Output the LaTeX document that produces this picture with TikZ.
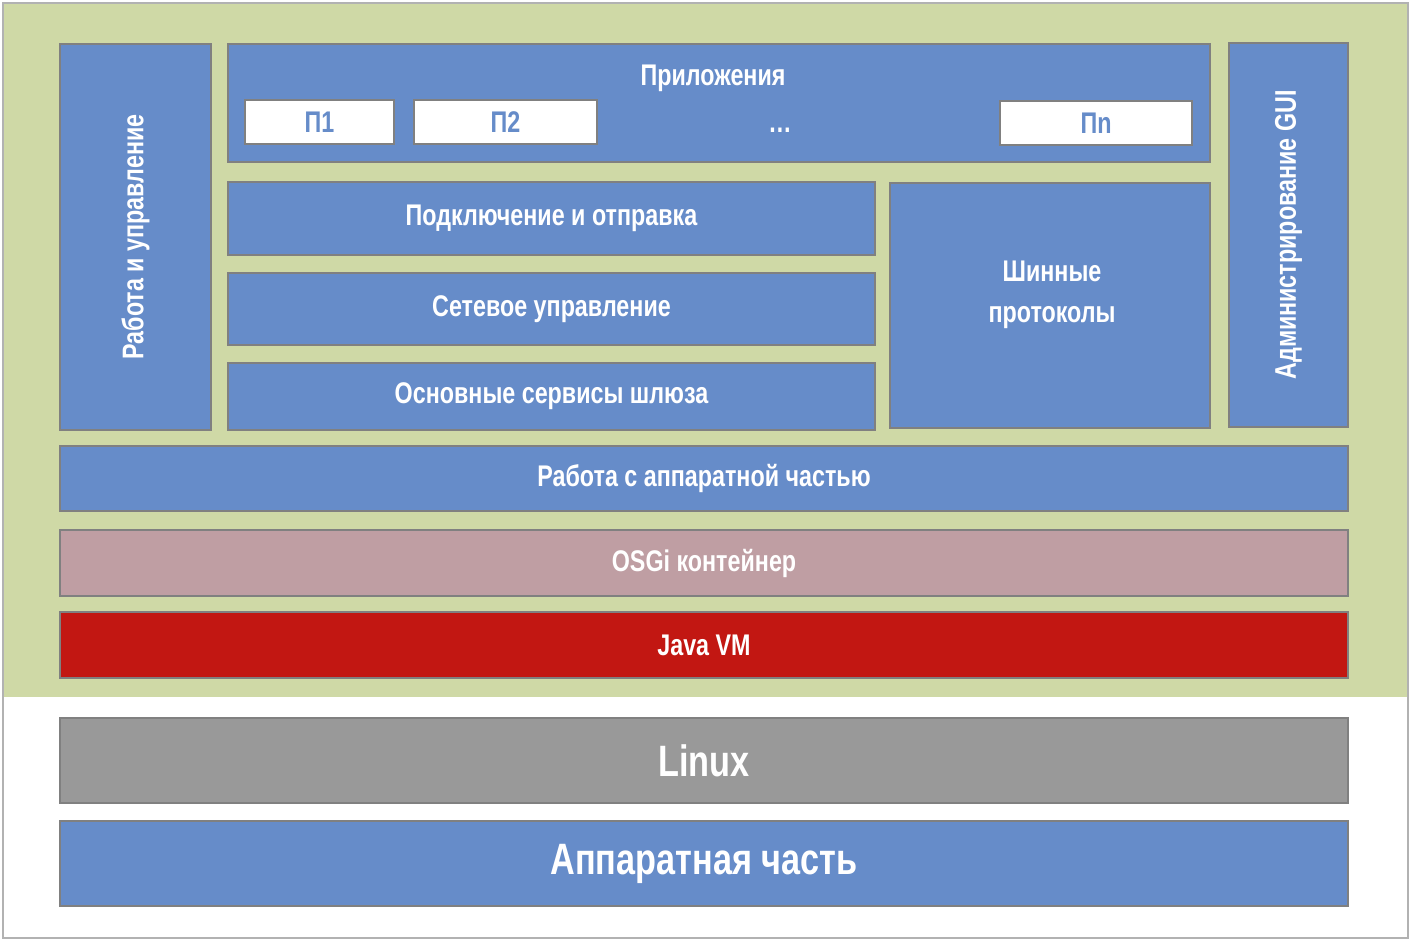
\documentclass[tikz,border=0pt]{standalone}
\usepackage{fontspec}
\setmainfont{Liberation Sans}[FakeStretch=0.78]
\definecolor{fond}{rgb}{0.81,0.85,0.65}
\definecolor{bleu}{rgb}{0.40,0.55,0.79}
\definecolor{rose}{rgb}{0.75,0.62,0.64}
\definecolor{rouge}{rgb}{0.76,0.09,0.07}
\definecolor{grisc}{rgb}{0.60,0.60,0.60}
\definecolor{bord}{rgb}{0.50,0.50,0.50}
\begin{document}
\begin{tikzpicture}[x=0.02cm, y=-0.02cm]
  \tikzstyle{bloc}=[draw=bord, line width=1.1pt, fill=bleu, text=white, font=\bfseries\fontsize{17}{19}\selectfont, align=center]
  \tikzstyle{appli}=[draw=bord, line width=1.1pt, fill=white, text=bleu, font=\bfseries\fontsize{17}{19}\selectfont]

	\useasboundingbox (0,0) rectangle (1416,943);
	\draw[bord!60, line width=0.8pt, fill=white] (3,3) rectangle (1408,938);
	\fill[fond] (4,4) rectangle (1407,697);

	\draw[bloc] (60,44) rectangle (211,430) node[midway, rotate=90] (ctl) {Работа и управление};
	\draw[bloc] (228,44) rectangle (1210,162);
	\node[text=white, font=\bfseries\fontsize{17}{19}\selectfont] (app) at (713,78) {Приложения};
	\draw[appli] (245,100) rectangle (394,144) node[midway] (P1) {П1};
	\draw[appli] (414,100) rectangle (597,144) node[midway] (P2) {П2};
	\draw[appli] (1000,101) rectangle (1192,145) node[midway] (Pn) {Пn};
	\node[text=white, font=\bfseries\fontsize{17}{19}\selectfont] (dots) at (780,130) {\dots};
	\draw[bloc] (228,182) rectangle (875,255) node[midway] (con) {Подключение и отправка};
	\draw[bloc] (228,273) rectangle (875,345) node[midway] (net) {Сетевое управление};
	\draw[bloc] (228,363) rectangle (875,430) node[midway] (srv) {Основные сервисы шлюза};
	\draw[bloc] (890,183) rectangle (1210,428);
	\node[text=white, align=center, font=\bfseries\fontsize{17}{23}\selectfont] (bus) at (1052,295) {Шинные\\протоколы};
	\draw[bloc] (1229,43) rectangle (1348,427) node[midway, rotate=90] (gui) {Администрирование GUI};
	\draw[bloc] (60,446) rectangle (1348,511) node[midway] (hw) {Работа с аппаратной частью};
	\draw[bloc, fill=rose] (60,530) rectangle (1348,596) node[midway] (osgi) {OSGi контейнер};
	\draw[bloc, fill=rouge] (60,612) rectangle (1348,678) node[midway] (jvm) {Java VM};
	\draw[bloc, fill=grisc, font=\bfseries\fontsize{25}{28}\selectfont] (60,718) rectangle (1348,803) node[midway] (lnx) {Linux};
	\draw[bloc, font=\bfseries\fontsize{25}{28}\selectfont] (60,821) rectangle (1348,906) node[midway] (base) {Аппаратная часть};

\end{tikzpicture}
\end{document}
